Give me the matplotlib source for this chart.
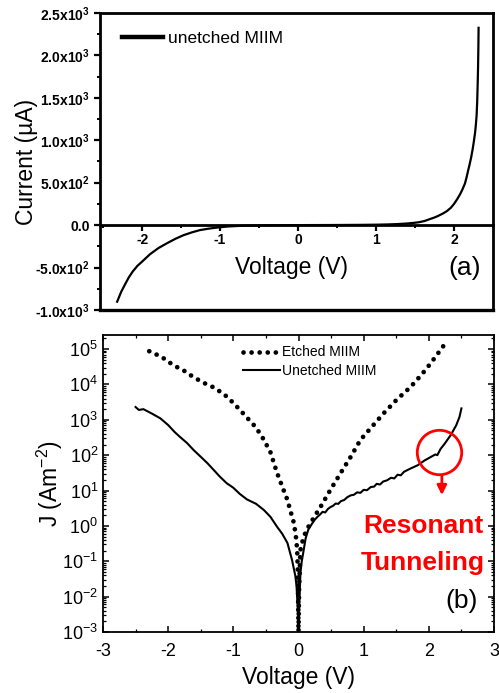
import matplotlib
matplotlib.use("Agg")
import matplotlib.pyplot as plt
from matplotlib.ticker import MultipleLocator, LogLocator, NullFormatter, FixedLocator

plt.rcParams['font.family'] = ['Liberation Sans', 'DejaVu Sans']
plt.rcParams['mathtext.default'] = 'regular'
plt.rcParams['axes.unicode_minus'] = False

# (a) linear I-V of the unetched MIIM
v_a = [-2.32, -2.27, -2.22, -2.17, -2.12, -2.06, -2.0, -1.9, -1.79, -1.68, -1.57, -1.47,
       -1.36, -1.26, -1.15, -1.05, -0.9, -0.7, -0.4, 0.0, 0.4, 0.8, 1.0, 1.15, 1.27,
       1.38, 1.48, 1.55, 1.62, 1.69, 1.75, 1.8, 1.86, 1.91, 1.96, 2.0, 2.04, 2.08, 2.11,
       2.14, 2.16, 2.18, 2.2, 2.22, 2.24, 2.255, 2.27, 2.28, 2.29, 2.297, 2.303,
       2.308, 2.312, 2.315]
i_a = [-902, -790, -700, -615, -546, -480, -430, -344, -270, -213, -160, -119,
       -85, -59, -42, -30, -16, -7, -2, 0, 1, 3, 5, 8, 12,
       18, 26, 34, 48, 71, 90, 110, 138, 166, 205, 250, 305, 368, 425,
       490, 560, 640, 715, 800, 900, 990, 1090, 1180, 1300, 1450, 1650,
       1850, 2080, 2325]
yticks_a = [-1000, -500, 0, 500, 1000, 1500, 2000, 2500]
ylabels_a = ['-1.0x10$^3$', '-5.0x10$^2$', '0.0', '5.0x10$^2$', '1.0x10$^3$',
             '1.5x10$^3$', '2.0x10$^3$', '2.5x10$^3$']

# (b) J-V on log scale
v_etched = [-2.29, -2.1, -1.92, -1.75, -1.61, -1.45, -1.28, -1.09, -0.92, -0.78, -0.65,
            -0.53, -0.43, -0.33, -0.25, -0.17, -0.12, -0.07, -0.04, -0.02, -0.01, 0.0,
            0.01, 0.03, 0.08, 0.15, 0.25, 0.34, 0.49, 0.65, 0.8, 0.95, 1.1, 1.31, 1.5,
            1.72, 1.9, 2.03, 2.15, 2.29]
j_etched = [8.7e4, 6.0e4, 3.5e4, 2.4e4, 1.6e4, 1.1e4, 7.9e3, 4.4e3, 2.1e3, 1.1e3, 6.0e2,
            2.7e2, 1.2e2, 3.2e1, 1.3e1, 5.4, 2.5, 1.2, 0.5, 0.21, 0.05, 0.001,
            0.02, 0.21, 0.5, 0.93, 1.9, 3.5, 10.5, 32, 89, 270, 560, 1550, 3600,
            8500, 2.0e4, 4.0e4, 8.0e4, 1.8e5]

v_unetched = [-2.5, -2.45, -2.38, -2.25, -2.12, -2.0, -1.9, -1.82, -1.71, -1.61, -1.5,
              -1.4, -1.3, -1.21, -1.1, -1.0, -0.9, -0.79, -0.65, -0.53, -0.43, -0.33,
              -0.25, -0.17, -0.1, -0.05, -0.03, -0.01, 0.0, 0.01, 0.03, 0.05, 0.08,
              0.11, 0.15, 0.2, 0.25, 0.29, 0.33, 0.37, 0.41, 0.45, 0.49, 0.53, 0.57,
              0.61, 0.65, 0.7, 0.75, 0.8, 0.85, 0.9, 0.95, 1.0, 1.05, 1.11, 1.16, 1.2,
              1.25, 1.3, 1.36, 1.42, 1.47, 1.52, 1.57, 1.62, 1.72, 1.83, 1.93, 2.03,
              2.1, 2.13, 2.18, 2.25, 2.34, 2.42, 2.47, 2.5]
j_unetched = [2.3e3, 1.9e3, 2.0e3, 1.5e3, 1.1e3, 7.1e2, 4.5e2, 3.3e2, 2.2e2, 1.4e2, 9.0e1,
              6.0e1, 3.8e1, 2.5e1, 1.6e1, 1.2e1, 8.0, 5.6, 4.2, 2.8, 1.8, 0.95,
              0.6, 0.33, 0.11, 0.04, 0.02, 0.004, 0.001, 0.005, 0.047, 0.1, 0.21,
              0.45, 0.78, 1.1, 1.5, 1.8, 2.1, 2.5, 2.4, 3.0, 3.4, 3.7, 4.3,
              4.2, 5.0, 5.4, 6.5, 7.3, 7.6, 8.9, 8.6, 10.5, 10.2, 12.6, 12.9, 15.5,
              14.8, 18, 19.5, 23, 22, 28, 27, 34, 42, 52, 70, 89,
              105, 100, 150, 220, 380, 700, 1200, 2100]

fig = plt.figure(figsize=(4.99, 6.93), dpi=100)

# ---- panel (a)
ax1 = fig.add_axes([0.2004, 0.5527, 0.7876, 0.4286])
ax1.plot(v_a, i_a, color='black', lw=1.6, label='unetched MIIM')
ax1.set_xlim(-2.54, 2.5)
ax1.set_ylim(-1000, 2500)
ax1.spines['bottom'].set_position(('data', 0))
for s in ax1.spines.values():
    s.set_linewidth(2)
ax1.plot([0, 1], [0, 0], transform=ax1.transAxes, color='black', lw=2.4, clip_on=False)
ax1.yaxis.set_major_locator(FixedLocator(yticks_a))
ax1.set_yticklabels(ylabels_a, fontweight='bold', fontsize=10)
ax1.yaxis.set_minor_locator(MultipleLocator(250))
ax1.xaxis.set_major_locator(MultipleLocator(1))
ax1.xaxis.set_minor_locator(MultipleLocator(0.5))
ax1.tick_params(axis='both', which='major', direction='out', length=4, width=1.6)
ax1.tick_params(axis='both', which='minor', direction='out', length=2.5, width=1.4)
ax1.tick_params(axis='x', labelsize=10, pad=2)
for lab in ax1.get_xticklabels():
    lab.set_fontweight('bold')
ax1.set_ylabel('Current (µA)', fontsize=16.5, labelpad=-2)
ax1.text(-0.08, -500, 'Voltage (V)', fontsize=16.5, ha='center', va='center')
ax1.text(2.14, -500, '(a)', fontsize=19, ha='center', va='center')
leg1 = ax1.legend(loc='upper left', bbox_to_anchor=(0.055, 0.94), frameon=False,
                  fontsize=12.5, handlelength=2.4, handletextpad=0.3,
                  borderpad=0, borderaxespad=0)
leg1.get_lines()[0].set_linewidth(3.2)

# ---- panel (b)
ax2 = fig.add_axes([0.2064, 0.088, 0.7836, 0.4286])
ax2.plot(v_etched, j_etched, color='black', lw=3.4, linestyle=(0, (0.01, 1.7)),
         dash_capstyle='round', label='Etched MIIM')
ax2.plot(v_unetched, j_unetched, color='black', lw=1.5, label='Unetched MIIM')
ax2.set_yscale('log')
ax2.set_xlim(-3, 3)
ax2.set_ylim(1e-3, 2.5e5)
for s in ax2.spines.values():
    s.set_linewidth(1.3)
ax2.xaxis.set_major_locator(MultipleLocator(1))
ax2.xaxis.set_minor_locator(MultipleLocator(0.5))
ax2.yaxis.set_major_locator(LogLocator(base=10, numticks=20))
ax2.yaxis.set_minor_locator(LogLocator(base=10, subs=[2, 3, 4, 5, 6, 7, 8, 9], numticks=100))
ax2.yaxis.set_minor_formatter(NullFormatter())
ax2.tick_params(axis='both', which='both', direction='in', top=True, right=True)
ax2.tick_params(axis='both', which='major', length=4, width=1.1, labelsize=13)
ax2.tick_params(axis='x', which='major', pad=8)
ax2.tick_params(axis='both', which='minor', length=2.5, width=0.9)
ax2.set_xlabel('Voltage (V)', fontsize=16.5, labelpad=4)
ax2.set_ylabel('J (Am$^{-2}$)', fontsize=16.5, labelpad=-2)
ax2.legend(loc='upper left', bbox_to_anchor=(0.358, 0.965), frameon=False,
           fontsize=10, handlelength=2.7, handletextpad=0.1, labelspacing=0.3,
           borderpad=0, borderaxespad=0)

# resonant tunneling annotation
ax2.plot([2.15], [123], marker='o', ms=32, mfc='none', mec='red', mew=2)
ax2.annotate('', xy=(2.2, 6.2), xytext=(2.2, 31.6),
             arrowprops=dict(arrowstyle='-|>', color='red', lw=2, mutation_scale=14))
ax2.text(1.91, 0.63, 'Resonant', color='red', fontsize=19, fontweight='bold',
         ha='center', va='baseline')
ax2.text(1.91, 0.057, 'Tunneling', color='red', fontsize=19, fontweight='bold',
         ha='center', va='baseline')
ax2.text(2.5, 0.0048, '(b)', fontsize=19, ha='center', va='baseline')

fig.savefig('out.png', dpi=100)
